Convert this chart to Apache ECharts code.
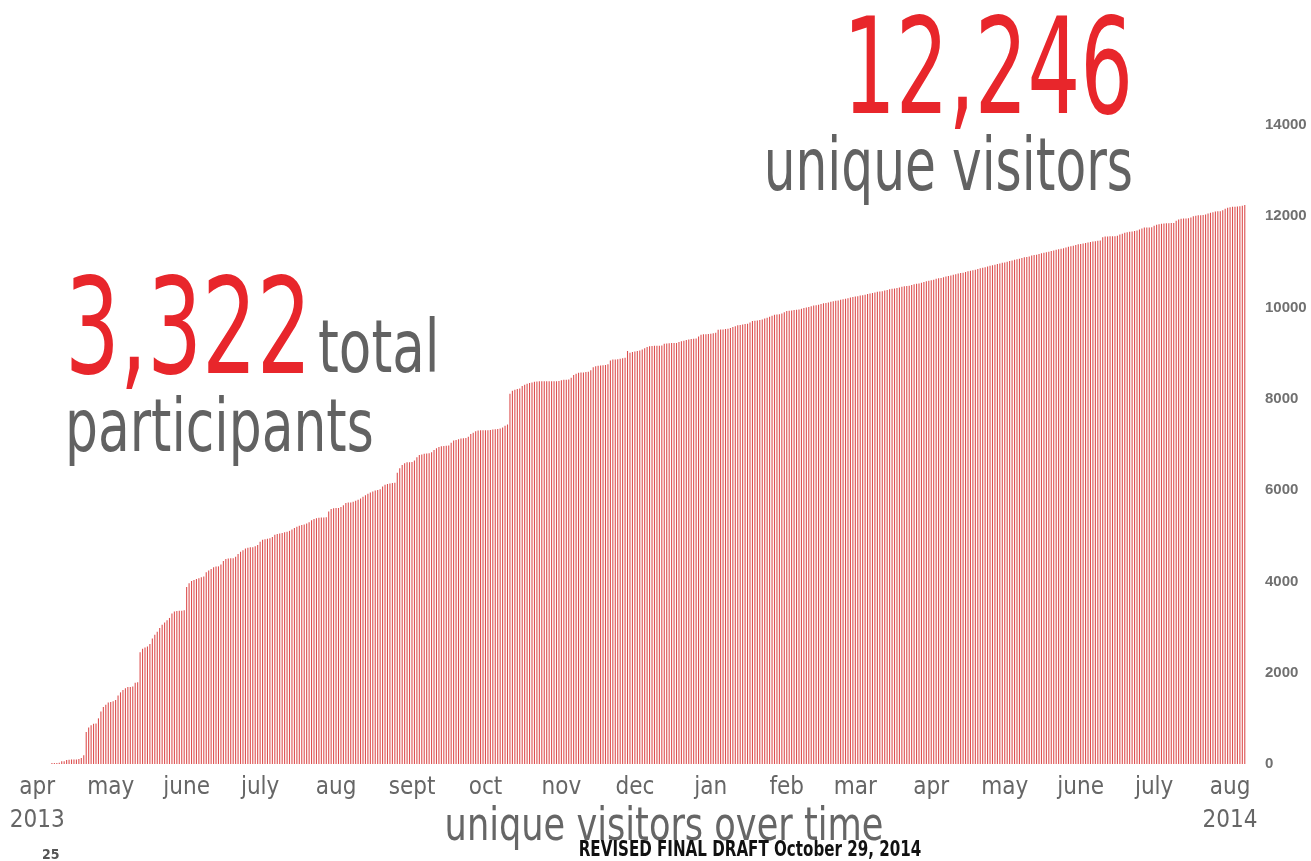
<!DOCTYPE html>
<html>
<head>
<meta charset="utf-8">
<title>unique visitors over time</title>
<script src="https://cdn.jsdelivr.net/npm/echarts@6.0.0/dist/echarts.min.js"></script>
<style>
  html, body { margin: 0; padding: 0; background: #fff; }
  #main { width: 1311px; height: 861px; }
</style>
</head>
<body>
<div id="main"></div>
<script>
/* 每日累计访客数 (2013-04-01 ~ 2014-08-07) */
var apr2013 = [0,0,0,0,0,0,20,20,20,30,60,60,90,95,100,100,100,110,130,190,700,800,850,880,890,1000,1150,1250,1300,1350];
var may2013 = [1360,1375,1400,1500,1570,1620,1660,1685,1685,1700,1780,1790,2450,2525,2555,2575,2630,2750,2830,2900,2980,3050,3100,3150,3200,3300,3340,3350,3360,3360,3370];
var jun2013 = [3880,3960,4010,4030,4055,4070,4090,4110,4200,4240,4270,4310,4325,4330,4370,4450,4490,4505,4510,4510,4540,4600,4650,4685,4720,4740,4750,4750,4770,4800];
var jul2013 = [4870,4915,4925,4935,4947,4975,5020,5040,5050,5060,5075,5090,5108,5140,5170,5196,5220,5235,5245,5268,5295,5340,5370,5385,5395,5400,5400,5405,5530,5585,5605];
var aug2013 = [5611,5611,5630,5670,5720,5728,5730,5748,5770,5790,5816,5855,5890,5920,5947,5970,5990,6005,6020,6080,6120,6135,6144,6155,6160,6380,6480,6550,6590,6610,6611];
var sep2013 = [6615,6650,6720,6770,6779,6800,6805,6810,6830,6880,6920,6946,6961,6965,6975,6980,7040,7085,7100,7115,7130,7135,7140,7170,7230,7260,7290,7305,7310,7310];
var oct2013 = [7310,7311,7315,7330,7335,7340,7350,7370,7410,7436,8114,8175,8200,8215,8225,8280,8310,8330,8347,8360,8377,8380,8384,8384,8384,8384,8384,8385,8385,8386,8390];
var nov2013 = [8406,8420,8420,8425,8460,8520,8552,8574,8578,8580,8590,8596,8625,8690,8715,8725,8730,8734,8740,8756,8843,8860,8865,8870,8880,8890,8902,9050,9010,9025];
var dec2013 = [9040,9048,9062,9080,9110,9135,9150,9160,9165,9165,9165,9170,9205,9215,9220,9223,9223,9225,9245,9260,9274,9290,9303,9310,9315,9320,9365,9405,9413,9415,9420];
var jan2014 = [9428,9438,9450,9515,9520,9522,9530,9537,9555,9573,9590,9610,9620,9631,9640,9646,9675,9704,9712,9719,9730,9741,9760,9778,9800,9822,9844,9848,9851,9870,9900];
var feb2014 = [9924,9930,9938,9945,9953,9960,9975,9990,10000,10010,10030,10045,10050,10060,10080,10095,10100,10110,10125,10140,10150,10155,10170,10185,10195,10205,10220,10230];
var mar2014 = [10240,10250,10262,10270,10280,10300,10310,10318,10330,10345,10350,10360,10372,10385,10400,10410,10420,10428,10440,10455,10465,10470,10480,10495,10510,10520,10530,10545,10560,10575,10590];
var apr2014 = [10600,10612,10630,10640,10650,10665,10680,10690,10700,10718,10730,10745,10755,10765,10780,10795,10805,10815,10830,10845,10860,10870,10885,10900,10915,10925,10940,10955,10965,10980];
var may2014 = [10990,11005,11020,11030,11045,11060,11070,11085,11100,11110,11120,11140,11150,11160,11175,11190,11200,11210,11225,11240,11250,11265,11280,11290,11300,11315,11330,11345,11355,11370,11385];
var jun2014 = [11395,11405,11415,11425,11435,11445,11455,11465,11470,11543,11555,11558,11560,11560,11565,11573,11600,11617,11640,11652,11660,11667,11675,11689,11710,11733,11755,11755,11755,11760];
var jul2014 = [11790,11814,11825,11836,11840,11848,11850,11852,11855,11902,11930,11945,11952,11952,11955,11975,12003,12010,12020,12024,12030,12039,12060,12076,12090,12105,12108,12112,12130,12163,12185];
var aug2014 = [12200,12207,12210,12214,12222,12230,12246];

// 月份刻度
var monthLabels = ['apr\n2013','may','june','july','aug','sept','oct','nov','dec','jan','feb','mar','apr','may','june','july','aug\n2014'];
var monthYears  = [2013,2013,2013,2013,2013,2013,2013,2013,2013,2014,2014,2014,2014,2014,2014,2014,2014];
var monthNums   = [4,5,6,7,8,9,10,11,12,1,2,3,4,5,6,7,8];
var monthData = [apr2013, may2013, jun2013, jul2013, aug2013, sep2013, oct2013, nov2013, dec2013,
                 jan2014, feb2014, mar2014, apr2014, may2014, jun2014, jul2014, aug2014];

var yTicks = [0, 2000, 4000, 6000, 8000, 10000, 12000, 14000];

// 拼成日期类目和数值
var days = [], visitors = [], monthStart = {};
for (var m = 0; m < monthData.length; m++) {
  monthStart[days.length] = monthLabels[m];
  for (var d = 0; d < monthData[m].length; d++) {
    days.push(monthYears[m] + '-' + monthNums[m] + '-' + (d + 1));
    visitors.push(monthData[m][d]);
  }
}

var narrow = "'Liberation Sans Narrow', 'DejaVu Sans Condensed', 'Liberation Sans', sans-serif";
var red = '#e8262b';
var grey = '#626262';

var chart = echarts.init(document.getElementById('main'), null, { renderer: 'canvas' });
var option = {
  animation: false,
  backgroundColor: '#fff',
  grid: { left: 36, right: 65, top: 125, bottom: 97 },
  xAxis: {
    type: 'category',
    data: days,
    axisLine: { show: false },
    axisTick: { show: false },
    axisLabel: {
      interval: function (index) { return monthStart[index] !== undefined; },
      formatter: function (value, index) { return monthStart[index] || ''; },
      color: '#666',
      fontFamily: narrow,
      fontSize: 24,
      lineHeight: 33,
      margin: 7
    }
  },
  yAxis: {
    type: 'value',
    position: 'right',
    min: yTicks[0],
    max: yTicks[yTicks.length - 1],
    interval: 2000,
    splitLine: { show: false },
    axisLine: { show: false },
    axisTick: { show: false },
    axisLabel: {
      margin: 19,
      align: 'left',
      color: '#707070',
      fontWeight: 'bold',
      fontFamily: "'Liberation Sans', Arial, sans-serif",
      fontSize: 15,
      formatter: function (v) { return String(v); }
    }
  },
  series: [{
    type: 'bar',
    data: visitors,
    barWidth: 1.1,
    itemStyle: { color: '#dd5050' }
  }],
  graphic: [
    { type: 'text', x: 1133, y: 78, scaleX: 0.693,
      style: { text: '12,246', fill: red, fontSize: 133, fontFamily: narrow, align: 'right', verticalAlign: 'middle' } },
    { type: 'text', x: 1133, y: 171, scaleX: 0.765,
      style: { text: 'unique visitors', fill: grey, fontSize: 73, fontFamily: narrow, align: 'right', verticalAlign: 'middle' } },
    { type: 'text', x: 65, y: 338, scaleX: 0.72,
      style: { text: '3,322', fill: red, fontSize: 133, fontFamily: narrow, align: 'left', verticalAlign: 'middle' } },
    { type: 'text', x: 318, y: 353, scaleX: 0.81,
      style: { text: 'total', fill: grey, fontSize: 73, fontFamily: narrow, align: 'left', verticalAlign: 'middle' } },
    { type: 'text', x: 65, y: 432, scaleX: 0.79,
      style: { text: 'participants', fill: grey, fontSize: 73, fontFamily: narrow, align: 'left', verticalAlign: 'middle' } },
    { type: 'text', x: 664, y: 828, scaleX: 0.85,
      style: { text: 'unique visitors over time', fill: '#666', fontSize: 46, fontFamily: narrow, align: 'center', verticalAlign: 'middle' } },
    { type: 'text', x: 750, y: 851, scaleX: 0.8,
      style: { text: 'REVISED FINAL DRAFT October 29, 2014', fill: '#111', fontSize: 21, fontWeight: 'bold', fontFamily: narrow, align: 'center', verticalAlign: 'middle' } },
    { type: 'text', x: 42, y: 855,
      style: { text: '25', fill: '#555', fontSize: 14, fontWeight: 'bold', fontFamily: narrow, align: 'left', verticalAlign: 'middle' } }
  ]
};
chart.setOption(option);
</script>
</body>
</html>
